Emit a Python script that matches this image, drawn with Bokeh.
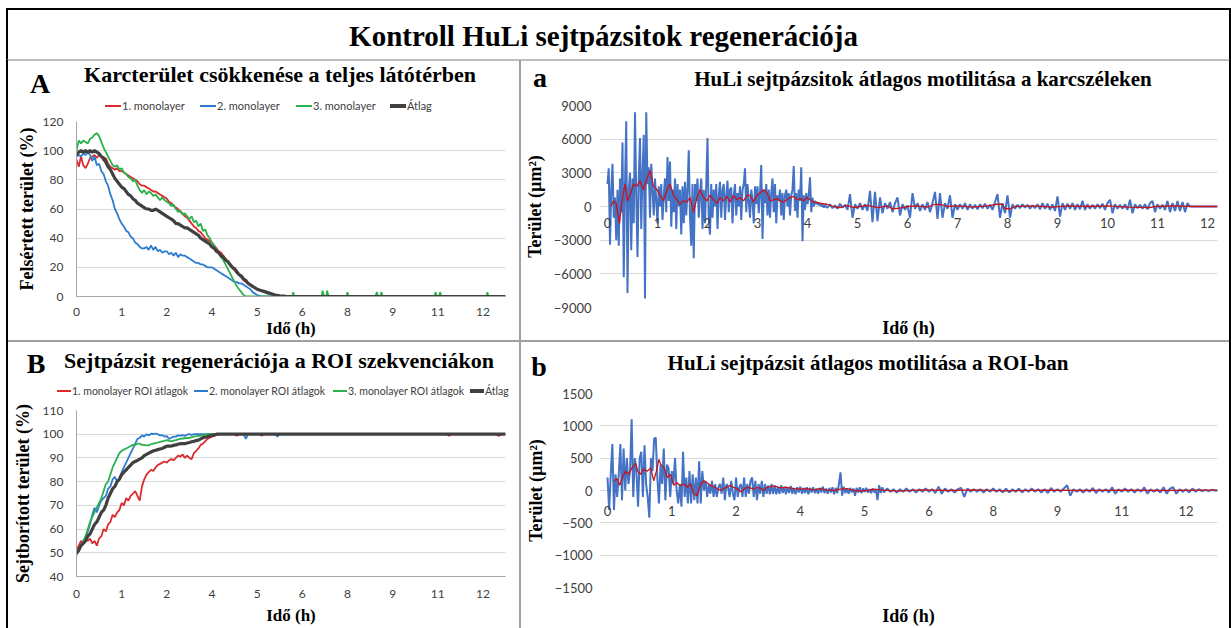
from bokeh.plotting import figure
from bokeh.layouts import column, row
from bokeh.models import Div, Range1d, FixedTicker, ColumnDataSource
from bokeh.embed import file_html
from bokeh.resources import INLINE
from bokeh.core.properties import value

# ---------------- texts ----------------
MAIN_TITLE = "Kontroll HuLi sejtpázsitok regenerációja"
TITLE_A = "Karcterület csökkenése a teljes látótérben"
TITLE_B = "Sejtpázsit regenerációja a ROI szekvenciákon"
TITLE_a = "HuLi sejtpázsitok átlagos motilitása a karcszéleken"
TITLE_b = "HuLi sejtpázsit átlagos motilitása a ROI-ban"
XLABEL = "Idő (h)"
YLABEL_A = "Felsértett terület (%)"
YLABEL_B = "Sejtborított terület (%)"
YLABEL_ab = "Terület (µm²)"
LEGEND_A = ["1. monolayer", "2. monolayer", "3. monolayer", "Átlag"]
LEGEND_B = ["1. monolayer ROI átlagok", "2. monolayer ROI átlagok", "3. monolayer ROI átlagok", "Átlag"]

# category-style time axis (evenly spaced labels) used by A, B and b
CAT_TICK_LABELS = ["0", "1", "2", "4", "5", "6", "8", "9", "11", "12"]
HOUR_TICKS_a = list(range(13))

# ---------------- panel A data (x = category position, step 0.05) ----------------
A_red = [94, 89, 96, 90, 88, 91, 95, 96, 97, 95, 97, 96, 93, 95, 91, 89, 88, 87, 88, 86,
         86, 85, 84, 83, 82, 81, 80, 79, 77, 76, 76, 75, 74, 73, 72, 72, 71, 70, 69, 68,
         67, 65, 64, 62, 61, 60, 58, 57, 55, 54, 52, 50, 48, 47, 45, 44, 42, 40, 39, 38,
         37, 35, 33, 31, 30, 28, 26, 24, 22, 20, 18, 16, 15, 13, 11, 10, 9, 8, 7, 6,
         5, 4.5, 4, 3.5, 2.5, 2, 1.5, 1, 1, 0.5, 0.3, 0.2, 0, 0, 0]
A_blue = [96, 97, 96, 98, 97, 99, 97, 93, 96, 90, 91, 86, 84, 79, 76, 70, 66, 60, 57, 53,
          50, 48, 45, 44, 41, 40, 37, 36, 34, 33, 33, 34, 32, 35, 32, 34, 31, 32, 30, 31,
          31, 29, 30, 28, 30, 27, 29, 28, 28, 27, 26, 25, 24, 23, 23, 22, 22, 21, 20, 20,
          20, 19, 18, 17, 16, 15, 14, 13, 12, 11, 10, 10, 9, 9, 8, 7, 6, 5, 3, 2,
          1, 0.5, 0, 0, 0, 0, 0, 0, 0, 0, 0, 0, 0, 0, 0]
A_green = [100, 107, 105, 107, 106, 105, 108, 109, 111, 112, 110, 106, 102, 99, 96, 93, 90, 89, 90, 87,
           88, 85, 84, 82, 81, 79, 80, 76, 73, 71, 73, 70, 72, 71, 69, 70, 68, 66, 68, 66,
           65, 64, 62, 63, 60, 58, 59, 56, 57, 55, 53, 55, 51, 52, 48, 50, 45, 46, 42, 40,
           37, 35, 32, 30, 27, 25, 22, 19, 16, 13, 10, 7, 5, 3, 1, 0, 0, 0, 0, 0,
           0, 0, 0, 0, 0, 0, 0, 0, 0, 0, 0, 0, 0, 0, 0]
A_avg = [97, 99, 100, 99, 100, 99, 100, 99, 100, 99, 98, 96, 95, 92, 89, 87, 84, 81, 79, 77,
         75, 74, 72, 70, 69, 67, 66, 64, 63, 62, 61, 60, 60, 59, 59, 60, 59, 58, 57, 56,
         55, 54, 53, 52, 50, 50, 49, 48, 47, 47, 46, 45, 44, 43, 42, 40, 39, 38, 37, 36,
         34, 33, 31, 30, 28, 27, 25, 24, 22, 20, 19, 17, 15, 14, 12, 11, 9, 8, 7, 6,
         5, 4.5, 4, 3.5, 3, 2.5, 2, 1.5, 1, 0.8, 0.5, 0.3, 0.2, 0, 0]
A_green_tail_x = [4.78, 4.8, 4.82, 5.43, 5.45, 5.48, 5.53, 5.55, 5.58, 5.98, 6.0, 6.02, 6.62, 6.65,
                  6.68, 6.73, 6.75, 6.78, 7.93, 7.95, 7.98, 8.03, 8.05, 8.08, 9.08, 9.1, 9.12, 9.5]
A_green_tail_y = [0, 3, 0, 0, 4, 0, 0, 4, 0, 0, 3, 0, 0, 3, 0, 0, 3, 0, 0, 3, 0, 0, 3, 0, 0, 3, 0, 0]

# ---------------- panel B data (x = category position, step 0.05) ----------------
B_red = [51, 53, 55, 54, 56, 55, 56, 54, 55, 53, 56, 57, 60, 59, 62, 63, 66, 65, 67, 68,
         71, 70, 73, 72, 74, 75, 76, 74, 72, 78, 81, 83, 84, 85, 84.5, 86, 87, 87.5, 88, 88.5,
         88, 89, 89.5, 89, 90, 91, 90.5, 91.5, 90, 91, 90, 89.5, 92, 93, 94, 95.5, 96, 97, 98, 98.5,
         99, 99.3, 99.6, 100, 100]
B_blue = [49, 51, 53, 54, 56, 59, 62, 66, 69, 67, 70, 72, 73, 74, 77, 78, 81, 82, 80, 81,
          84, 86, 88, 90, 92, 94, 96, 98, 98.5, 99.5, 99, 100, 99.5, 100.2, 100, 100.3, 100, 99.5, 99.6, 99,
          99.2, 98, 98.5, 99, 99, 99.5, 99.3, 99.6, 99.3, 99.8, 100, 99.7, 100, 100, 100, 100, 100, 100, 100, 100,
          100, 100, 100, 100, 100]
B_green = [50, 51, 53, 55, 57, 60, 63, 65, 67, 69, 71, 73, 76, 79, 80, 83, 86, 88, 90, 92,
           93, 93.5, 94, 94.5, 95, 95.5, 95.5, 96, 96, 95.5, 95.5, 95.3, 95.3, 95.8, 96, 96.2, 96.5, 96.8, 97, 97.2,
           97.5, 97.2, 97, 97.3, 97.5, 97.8, 98, 98.2, 98.3, 98.4, 98.5, 98.8, 99, 99.2, 99.3, 99.4, 99.5, 99.8, 100, 100,
           100, 100, 100, 100, 100]
B_avg = [50, 51, 53, 54, 55, 57, 58, 60, 62, 63, 65, 67, 68, 70, 73, 75, 77, 78, 80, 81,
         83, 84, 85, 86, 87, 88, 88.5, 89, 89.5, 90, 91, 91.5, 92, 92.5, 93, 93.2, 93.5, 93.8, 94, 94.5,
         95, 95, 95, 95.3, 95.5, 95.8, 96, 96, 96, 96.3, 96.5, 96.8, 97, 97.3, 97.5, 98, 98.5, 98.8, 99, 99.3,
         99.5, 99.7, 100, 100, 100]
B_red_tail_x = [3.5, 3.55, 3.6, 4.05, 4.1, 4.15, 8.2, 8.25, 8.3, 9.3, 9.35, 9.4, 9.5]
B_red_tail_y = [100, 99.3, 100, 100, 99.4, 100, 100, 99.3, 100, 100, 99.2, 100, 100]
B_blue_tail_x = [3.7, 3.75, 3.8, 4.4, 4.45, 4.5, 9.5]
B_blue_tail_y = [100, 98, 100, 100, 99, 100, 100]
B_flat_tail_x = [9.5]
B_flat_tail_y = [100]

# ---------------- panel a data (x = hours) ----------------
a_blue_early = [2000, 3400, -3400, 1500, 3800, -1000, 800, -3000, 1500, -3500,
                2500, -500, 5700, -6300, 2000, 7600, -7700, 1500, 3000, -3900,
                2500, -1500, 8400, 1000, -4500, 2500, 6100, -2000, 3000, 6400,
                -8200, 8400, 2000, 3500, -1000, 3800, 1500, -800, 2500, 500,
                -1500, 1800, 0, 2000, -1200, 1000, 2500, -500, 4400, 500,
                4000, -1800, 1500, -500, 2500, -2000, 2000, 0, 1500, -2500,
                1800, -1500, 2200, -800, 1500, 5000, -1000, -3500, 2000, -4600,
                2000, 500, 2500, -1000, 1000, 2500, -2000, 1500, -1500, 2000,
                6100, -1200, -2500, 2000, -1000, 1500, 0, 2000, -2000, 1000,
                2200, -1000, 1500, 2000, -1200, 1000, 2300, -500, 1500, 1700,
                -1500, 1000, 2000, -800, 1200, 0, 1800, -1200, 1500, 2000,
                3400, -500, 2000, 500, -1000, 1500, 600, -1500, 1800, 200,
                1800, -600, 1200, 3700, -2900, 1500, 300, 2000, -800, 1500,
                -1000, 1200, 2500, -500, 2000, -1500, 1000, 500, 1500, -800,
                1200, -1200, 1000, 1500, 0, 1200, -800, 1000, 1500, 3600,
                -400, 1200, -1000, 1500, 500, 3500, -3100, 1000, -300, 1200,
                200, 1000, 2600, -500, 800, 0, 500, 200, 400, 100,
                300, 0, 200, -100, 150, -50]
a_blue_late = [-100, 200, -150, 100, -200, 250, -100, 150, -300, 1100,
               -1000, 200, -200, 300, -300, 200, -400, 1400, -1400, 1300,
               -1300, 800, -600, 300, -200, 400, -500, 300, 800, -800,
               200, -300, 100, -1000, 1200, -200, 300, -400, 200, -300,
               400, -500, 300, 1300, -1100, 1200, -1000, 300, -200, 1000,
               -1000, 200, -300, 200, -200, 300, -300, 200, -200, 150,
               -250, 200, -150, 250, -200, 150, -300, 400, 1100, -1000,
               300, -600, 1000, -1000, 200, -200, 150, -150, 200, -100,
               150, -200, 100, -150, 200, -250, 300, -200, 250, -300,
               200, -400, 900, -900, 300, -300, 250, -200, 300, -300,
               200, -250, 500, -300, 200, -200, 150, -200, 200, -150,
               250, -300, 300, 600, -600, 200, -200, 150, -200, 200,
               -300, 600, -600, 200, -150, 150, -200, 200, -250, 300,
               500, -500, 200, -200, 150, -300, 500, -500, 300, -400,
               500, -400, 400, -500, 300]
a_blue_tail_t = [11.65, 12.2]
a_blue_tail_v = [0, 0]
a_red_t = [0.07, 0.12, 0.17, 0.24, 0.29, 0.35, 0.40, 0.45, 0.52, 0.59, 0.65, 0.72, 0.79, 0.85, 0.92, 0.99,
           1.05, 1.12, 1.19, 1.25, 1.32, 1.39, 1.45, 1.52, 1.59, 1.65, 1.72, 1.79, 1.85, 1.92, 1.99,
           2.05, 2.12, 2.19, 2.25, 2.32, 2.39, 2.45, 2.52, 2.59, 2.65, 2.72, 2.79, 2.85, 2.92, 2.99,
           3.05, 3.12, 3.19, 3.25, 3.32, 3.39, 3.45, 3.52, 3.59, 3.65, 3.72, 3.79, 3.85, 3.92, 3.99,
           4.05, 4.12, 4.25, 4.39, 4.52, 4.65, 4.79, 4.92,
           5.05, 5.2, 5.4, 5.6, 5.7, 5.85,
           6.0, 6.2, 6.4, 6.55, 6.7, 6.8,
           7.0, 7.3, 7.6, 7.78, 7.9, 7.95,
           8.05, 8.15, 8.5, 8.9,
           9.2, 9.6,
           10.0, 10.4, 10.85, 10.95,
           11.3, 11.7, 12.2]
a_red_v = [0, 500, 300, -1500, 500, 2000, 500, 1000, 2000, 1800, 2300, 1500, 2500, 3200, 1800, 1500,
           1000, 500, 1500, 2000, 1000, 600, 200, 500, 400, 800, -500, 800, 1500, 800, 500,
           1000, 600, 300, 800, 500, 900, 400, 1000, 600, 800, 500, 1000, 1000, 400, 1000,
           1200, 1500, 1200, 500, 600, 700, 500, 400, 600, 800, 900, 600, 700, 500, 800,
           600, 400, 300, 200, 0, -100, 100, -100,
           0, 100, -100, 50, -200, -150,
           0, 50, -50, 200, 150, 0,
           50, -50, 50, 200, 200, -200,
           -200, 0, 50, -50,
           50, 0,
           50, -50, -100, 0,
           50, 0, 0]

# ---------------- panel b data (x = category position) ----------------
b_blue_early = [200, -300, 250, 720, -300, 250, -100, 250, 720, -150,
                650, 0, 500, 100, 300, 1100, -100, 500, 300, -250,
                500, 600, -100, 700, 100, -100, -420, 500, 300, 800,
                820, 200, -200, 400, 100, 650, -150, 400, 350, -100,
                300, 100, 500, 0, -200, 100, -250, 600, -100, 200,
                -200, 300, -200, 250, -150, 200, -200, 450, -200, 300,
                0, 150, -100, 100, -50, 150, -100, 100, -100, 50,
                100, -50, 200, -150, 100, 50, -100, 150, -50, -150,
                200, -100, 50, 100, -100, 200, -100, 100, -50, 150,
                200, -100, 150, -150, 100, -50, 150, -100, 100, -50,
                80, -60, 100, -50, 80, -60, 50, -50, 80, -40,
                60, -60, 50, -40, 70, -50, 40, -60, 50, -30,
                60, -50, 40, -40, 50, -60, 40, -30, 50, -40,
                30, -50, 40, -30, 60, -40, 30, -50, 40, -30,
                50, -60, 40, -40, 100, 280, -80, 60, -40, 30,
                -50, 40, -30, 30, -80, 40, -30, 50, -40, 30,
                -20, 40, -30, 20, -40, 30, -30, 20, -150, 80,
                -40, 50, -30]
b_blue_late = [30, -20, 20, -30, 20, -20, 30, -20, 20, -30,
               20, -20, 30, -20, 20, -40, 60, -50, 30, -20,
               20, -30, 20, 40, -100, 30, -20, 20, -20, 20,
               -30, 20, -20, 30, -20, 20, -30, 30, -30, 20,
               -20, 30, -30, 20, -20, 30, -20, 20, -30, 20,
               -40, 40, -20, 20, -20, 30, 80, -80, 20, -20,
               20, -30, 20, -20, 40, -40, 20, -20, 20, -30,
               50, -50, 20, -20, 30, -20, 20, -30, 20, -20,
               50, -50, 20, -20, 20, -30, 50, -50, 30, 50,
               -50, 20, -20, 20, -30, 30, -20, 20, -10, 10,
               -10, 10, 0, 0]
b_red_p = [0.10, 0.15, 0.19, 0.23, 0.28, 0.33, 0.38, 0.44, 0.47, 0.51, 0.56, 0.62, 0.67, 0.72, 0.76, 0.80, 0.83, 0.88, 0.93, 0.98,
           1.03, 1.08, 1.13, 1.19, 1.24, 1.29, 1.34, 1.39, 1.45, 1.50, 1.55, 1.60, 1.65, 1.70, 1.76, 1.81, 1.86, 1.91, 1.96,
           2.02, 2.07, 2.12, 2.17, 2.22, 2.27, 2.33, 2.38, 2.43, 2.48, 2.59, 2.69, 2.79, 2.90,
           3.00, 3.10, 3.21, 3.31, 3.41, 3.52, 3.62, 3.73, 3.83, 3.93,
           4.04, 4.14, 4.24, 4.5, 4.9, 5.3, 5.7, 6.2, 6.8, 7.4, 8.0, 8.6, 9.2, 9.49]
b_red_v = [150, 180, 80, 200, 300, 250, 350, 420, 300, 250, 330, 300, 350, 150, 300, 480, 400, 350, 200, 250,
           80, 120, 80, 100, 50, 100, -50, -80, 100, 150, 120, 80, 60, 30, 0, 30, 60, 80, 50,
           30, -20, 20, 50, 40, 20, 50, 30, 0, 50, 70, 40, 50, 30,
           20, 30, 10, 30, 10, 0, 20, 30, 0, -10,
           0, 20, 10, -10, 10, 0, 10, -5, 5, 0, 5, 0, 5, 5]

# ---------------- styling constants ----------------
SERIF = "Liberation Serif"
SANS = "Lato"
RED, BLUE, GREEN, DARK = "#DC2A2E", "#2E7CD0", "#2BB24C", "#404040"
SERIES_COLORS = [RED, BLUE, GREEN, DARK]
SERIES_WIDTHS = [1.8, 1.8, 1.8, 3.2]
MOT_BLUE, MOT_RED = "#4472C4", "#C8141C"
GRID = "#D9D9D9"
TICK_COL = "#404040"
SEP = "#A0A0A0"


def grid_x(n, start, step):
    return [round(start + i * step, 4) for i in range(n)]


def make_fig(w, h, xr, yr, ml, mr, mt, mb):
    p = figure(width=w, height=h, x_range=Range1d(*xr), y_range=Range1d(*yr),
               output_backend="svg", toolbar_location=None, title=None,
               min_border_left=ml, min_border_right=mr, min_border_top=mt, min_border_bottom=mb)
    p.outline_line_color = None
    p.background_fill_color = "white"
    p.border_fill_color = "white"
    p.xgrid.visible = False
    p.ygrid.grid_line_color = GRID
    p.ygrid.grid_line_width = 1
    for ax in p.axis:
        ax.major_tick_line_color = None
        ax.minor_tick_line_color = None
        ax.major_tick_out = 0
        ax.major_tick_in = 0
        ax.major_label_text_font = SANS
        ax.major_label_text_color = TICK_COL
        ax.axis_label_text_font = SERIF
        ax.axis_label_text_font_style = "bold"
        ax.axis_label_text_color = "black"
    return p


FONT_CSS = "font-family:'Liberation Serif';font-weight:bold;line-height:1;white-space:nowrap;color:#000;"


def heading(w, h, letter, lx, ltop, title, tx, ttop, tsize, legend=None):
    html = (f'<div style="position:relative;width:{w}px;height:{h}px;">'
            f'<span style="position:absolute;left:{lx}px;top:{ltop}px;transform:translateX(-50%);'
            f'{FONT_CSS}font-size:28px;">{letter}</span>'
            f'<span style="position:absolute;left:{tx}px;top:{ttop}px;transform:translateX(-50%);'
            f'{FONT_CSS}font-size:{tsize}px;">{title}</span>')
    if legend is not None:
        labels, xs, cy, gw, fs = legend
        for lab, x, col, lw in zip(labels, xs, SERIES_COLORS, SERIES_WIDTHS):
            th = 4 if lw > 2 else 2
            html += (f'<div style="position:absolute;left:{x}px;top:{cy - 7}px;height:14px;display:flex;'
                     f'align-items:center;white-space:nowrap;font-family:Lato;font-size:{fs}px;color:{TICK_COL};">'
                     f'<span style="display:inline-block;width:{gw}px;height:{th}px;background:{col};'
                     f'margin-right:1px;"></span>{lab}</div>')
    html += '</div>'
    return Div(text=html, width=w, height=h, margin=0)


def cat_axis(p, fontsize, standoff, label_standoff):
    p.xaxis.ticker = FixedTicker(ticks=list(range(len(CAT_TICK_LABELS))))
    p.xaxis.major_label_overrides = {i: t for i, t in enumerate(CAT_TICK_LABELS)}
    p.xaxis.major_label_text_font_size = fontsize
    p.xaxis.major_label_standoff = standoff
    p.xaxis.axis_label = XLABEL
    p.xaxis.axis_label_standoff = label_standoff


# ---------------- panel A ----------------
xA = grid_x(len(A_red), 0, 0.05)
pA = make_fig(511, 227, (0, 9.5), (0, 120), 60, 14, 8, 44)
cat_axis(pA, "12px", 11, 0)
pA.xaxis.axis_label_text_font_size = "17px"
pA.yaxis.ticker = FixedTicker(ticks=[0, 20, 40, 60, 80, 100, 120])
pA.yaxis.major_label_text_font_size = "12px"
pA.yaxis.major_label_standoff = 13
pA.yaxis.axis_label = YLABEL_A
pA.yaxis.axis_label_text_font_size = "18px"
pA.yaxis.axis_label_standoff = 3
for ax in pA.axis:
    ax.axis_line_color = "#A6A6A6"
pA.line(xA + [9.5], A_red + [0], line_color=RED, line_width=SERIES_WIDTHS[0])
pA.line(xA + [9.5], A_blue + [0], line_color=BLUE, line_width=SERIES_WIDTHS[1])
pA.line(xA + A_green_tail_x, A_green + A_green_tail_y, line_color=GREEN, line_width=SERIES_WIDTHS[2])
pA.line(xA + [9.5], A_avg + [0], line_color=DARK, line_width=SERIES_WIDTHS[3])
headA = heading(511, 53, "A", 32, 10, TITLE_A, 272, 4, 22,
                legend=(LEGEND_A, [97, 192, 288, 382], 46, 16, 11))

# ---------------- panel B ----------------
xB = grid_x(len(B_red), 0, 0.05)
pB = make_fig(511, 226, (0, 9.5), (40, 110), 68, 14, 8, 52)
cat_axis(pB, "12px", 13, 5)
pB.xaxis.axis_label_text_font_size = "17px"
pB.yaxis.ticker = FixedTicker(ticks=[40, 50, 60, 70, 80, 90, 100, 110])
pB.yaxis.major_label_text_font_size = "12px"
pB.yaxis.major_label_standoff = 13
pB.yaxis.axis_label = YLABEL_B
pB.yaxis.axis_label_text_font_size = "18px"
pB.yaxis.axis_label_standoff = 7
for ax in pB.axis:
    ax.axis_line_color = "#A6A6A6"
pB.line(xB + B_red_tail_x, B_red + B_red_tail_y, line_color=RED, line_width=SERIES_WIDTHS[0])
pB.line(xB + B_blue_tail_x, B_blue + B_blue_tail_y, line_color=BLUE, line_width=SERIES_WIDTHS[1])
pB.line(xB + B_flat_tail_x, B_green + B_flat_tail_y, line_color=GREEN, line_width=SERIES_WIDTHS[2])
pB.line(xB + B_flat_tail_x, B_avg + B_flat_tail_y, line_color=DARK, line_width=SERIES_WIDTHS[3])
headB = heading(511, 60, "B", 28, 8, TITLE_B, 271, 8, 22,
                legend=(LEGEND_B, [49, 186, 325, 462], 49, 14, 10.5))

# ---------------- panel a ----------------
ta = grid_x(len(a_blue_early), 0, 0.025) + grid_x(len(a_blue_late), 4.40, 0.05) + a_blue_tail_t
va = a_blue_early + a_blue_late + a_blue_tail_v
pa = make_fig(708, 244, (-0.16, 12.2), (-9000, 9000), 78, 11, 9, 33)
pa.xaxis.ticker = FixedTicker(ticks=[])
pa.xaxis.axis_line_color = None
pa.xaxis.axis_label = XLABEL
pa.xaxis.axis_label_text_font_size = "18px"
pa.xaxis.axis_label_standoff = 10
pa.yaxis.axis_line_color = None
pa.yaxis.ticker = FixedTicker(ticks=[-9000, -6000, -3000, 0, 3000, 6000, 9000])
pa.yaxis.major_label_text_font_size = "13px"
pa.yaxis.major_label_standoff = 8
pa.yaxis.axis_label = YLABEL_ab
pa.yaxis.axis_label_text_font_size = "18px"
pa.yaxis.axis_label_standoff = 6
pa.line(ta, va, line_color=MOT_BLUE, line_width=2)
pa.line(a_red_t, a_red_v, line_color=MOT_RED, line_width=1.3)
src_a = ColumnDataSource(dict(x=HOUR_TICKS_a, y=[0] * len(HOUR_TICKS_a), t=[str(v) for v in HOUR_TICKS_a]))
pa.text(x="x", y="y", text="t", source=src_a, text_align="center", text_baseline="middle",
        y_offset=16, text_font=value(SANS), text_font_size="13px", text_color=TICK_COL)
heada = heading(708, 36, "a", 19, 4, TITLE_a, 402, 9, 21)

# ---------------- panel b ----------------
tb = grid_x(len(b_blue_early), 0, 0.025) + grid_x(len(b_blue_late), 4.35, 0.05)
vb = b_blue_early + b_blue_late
pb = make_fig(708, 248, (-0.125, 9.49), (-1500, 1500), 78, 12, 13, 38)
pb.xaxis.ticker = FixedTicker(ticks=[])
pb.xaxis.axis_line_color = None
pb.xaxis.axis_label = XLABEL
pb.xaxis.axis_label_text_font_size = "18px"
pb.xaxis.axis_label_standoff = 18
pb.yaxis.axis_line_color = None
pb.yaxis.ticker = FixedTicker(ticks=[-1500, -1000, -500, 0, 500, 1000, 1500])
pb.yaxis.major_label_text_font_size = "13px"
pb.yaxis.major_label_standoff = 7
pb.yaxis.axis_label = YLABEL_ab
pb.yaxis.axis_label_text_font_size = "18px"
pb.yaxis.axis_label_standoff = 6
pb.line(tb, vb, line_color=MOT_BLUE, line_width=2)
pb.line(b_red_p, b_red_v, line_color=MOT_RED, line_width=1.3)
cat_pos = list(range(len(CAT_TICK_LABELS)))
src_b = ColumnDataSource(dict(x=cat_pos, y=[0] * len(cat_pos), t=CAT_TICK_LABELS))
pb.text(x="x", y="y", text="t", source=src_b, text_align="center", text_baseline="middle",
        y_offset=20, text_font=value(SANS), text_font_size="13px", text_color=TICK_COL)
headb = heading(708, 38, "b", 18, 11, TITLE_b, 347, 11, 21)

# ---------------- page frame ----------------
def bar(w, h, color):
    return Div(width=w, height=h, margin=0, styles={"background-color": color})


title_html = (
    '<div style="position:relative;width:1231px;height:60px;">'
    '<div style="position:absolute;left:6px;top:8px;width:1191px;height:49px;padding-right:30px;'
    'border-top:2px solid #000;border-left:2px solid #000;border-right:2px solid #000;'
    'border-bottom:2px solid #BDBDBD;box-sizing:content-box;'
    "font-family:'Liberation Serif';font-weight:bold;font-size:29px;color:#000;"
    'text-align:center;line-height:52px;">' + MAIN_TITLE + '</div></div>'
)
title_div = Div(text=title_html, width=1231, height=60, margin=0)

left_col = column(headA, pA, bar(511, 2, SEP), headB, pB, spacing=0, margin=0)
right_col = column(heada, pa, bar(708, 2, SEP), headb, pb, spacing=0, margin=0)
body = row(bar(6, 568, "#FFFFFF"), bar(2, 568, "#000000"), left_col, bar(2, 568, SEP),
           right_col, bar(2, 568, "#000000"), spacing=0, margin=0)
root = column(title_div, body, spacing=0, margin=0)

open("out.html", "w").write(file_html(root, INLINE))
